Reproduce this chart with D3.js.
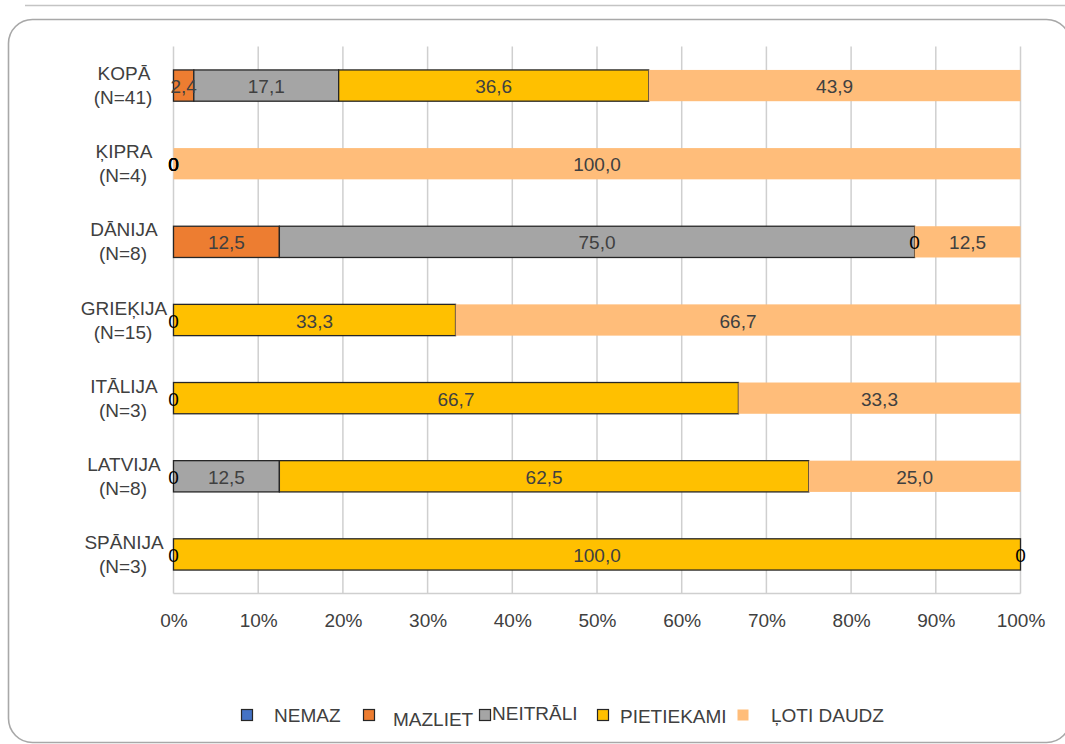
<!DOCTYPE html>
<html>
<head>
<meta charset="utf-8">
<script src="https://cdn.jsdelivr.net/npm/d3@7"></script>
<style>
  html, body { margin: 0; padding: 0; background: #ffffff; }
  svg { display: block; }
</style>
</head>
<body>
<svg id="chart" width="1065" height="744"></svg>
<script>
// ---------- DATA ----------
const categories = ["KOPĀ", "ĶIPRA", "DĀNIJA", "GRIEĶIJA", "ITĀLIJA", "LATVIJA", "SPĀNIJA"];
const sampleSizes = ["(N=41)", "(N=4)", "(N=8)", "(N=15)", "(N=3)", "(N=8)", "(N=3)"];
const seriesNames = ["NEMAZ", "MAZLIET", "NEITRĀLI", "PIETIEKAMI", "ĻOTI DAUDZ"];
// null = segment absent / no label shown
const nemaz      = [null, 0,    null, 0,    0,    0,    0];
const mazliet    = [2.4,  0,    12.5, null, null, null, null];
const neitrali   = [17.1, 0,    75.0, null, null, 12.5, null];
const pietiekami = [36.6, 0,    0,    33.3, 66.7, 62.5, 100.0];
const lotiDaudz  = [43.9, 100.0, 12.5, 66.7, 33.3, 25.0, 0];
const tickValues = [0, 10, 20, 30, 40, 50, 60, 70, 80, 90, 100];

// ---------- STYLE / LAYOUT ----------
const colors = ["#4472C4", "#ED7D31", "#A5A5A5", "#FFC000", "#FFBD7A"];
const stroked = [true, true, true, true, false];
const legendItemX = [241, 363, 479, 597, 737];   // square left edges
const legendTextX = [274, 393, 492, 620, 771];
const legendTextDy = [0, 4, -2, 1, 0];
const sansFont = "'Liberation Sans', Arial, sans-serif";

const svg = d3.select("#chart");

// frame
svg.append("line").attr("x1", 25).attr("x2", 1065).attr("y1", 5.5).attr("y2", 5.5)
  .attr("stroke", "#c4c4c4").attr("stroke-width", 1.5);
svg.append("rect").attr("x", 8.5).attr("y", 19.5).attr("width", 1062).attr("height", 723)
  .attr("rx", 24).attr("ry", 24)
  .attr("fill", "#ffffff").attr("stroke", "#a8a8a8").attr("stroke-width", 1.6);

const plot = { left: 173.5, right: 1020.5, top: 46.5, bottom: 593.5 };

const x = d3.scaleLinear().domain([0, 100]).range([plot.left, plot.right]);
const y = d3.scaleBand().domain(categories).range([plot.top, plot.bottom]).paddingInner(0.6).paddingOuter(0.3);

// grid lines
const g = svg.append("g");
g.selectAll("line.grid").data(tickValues).join("line")
  .attr("class", "grid")
  .attr("x1", d => x(d)).attr("x2", d => x(d))
  .attr("y1", plot.top).attr("y2", plot.bottom)
  .attr("stroke", "#cfcfcf").attr("stroke-width", 1.5);
g.append("line").attr("x1", plot.left).attr("x2", plot.right)
  .attr("y1", plot.bottom).attr("y2", plot.bottom)
  .attr("stroke", "#cfcfcf").attr("stroke-width", 1.5);

// x axis tick labels via d3 axis
const xAxis = d3.axisBottom(x).tickValues(tickValues).tickFormat(d => d + "%").tickSize(0).tickPadding(20);
const axG = svg.append("g").attr("transform", `translate(0,${plot.bottom})`).call(xAxis);
axG.select(".domain").remove();
axG.selectAll("text").attr("font-family", sansFont).attr("font-size", 19).attr("fill", "#404040");

// stack data
const seriesArrays = [nemaz, mazliet, neitrali, pietiekami, lotiDaudz];
const rows = categories.map((c, i) => {
  const o = { cat: c };
  seriesNames.forEach((s, k) => { o[s] = seriesArrays[k][i]; });
  return o;
});
const stack = d3.stack().keys(seriesNames).value((d, key) => d[key] == null ? 0 : d[key]);
const stacked = stack(rows);

const locale = d3.formatLocale({ decimal: ",", thousands: " ", grouping: [3], currency: ["", ""] });
const fmt = locale.format(".1f");

// bars
stacked.forEach((layer, k) => {
  const lg = svg.append("g");
  lg.selectAll("rect").data(layer.filter(d => d[1] - d[0] > 0)).join("rect")
    .attr("x", d => x(d[0]))
    .attr("y", d => y(d.data.cat))
    .attr("width", d => x(d[1]) - x(d[0]))
    .attr("height", y.bandwidth())
    .attr("fill", colors[k])
    .attr("stroke", stroked[k] ? "#262626" : "none")
    .attr("stroke-width", 1.3);
});

// labels
stacked.forEach((layer, k) => {
  const lg = svg.append("g");
  lg.selectAll("text").data(layer.filter(d => d.data[seriesNames[k]] != null)).join("text")
    .attr("x", d => x((d[0] + d[1]) / 2))
    .attr("y", d => y(d.data.cat) + y.bandwidth() / 2 + 1)
    .attr("text-anchor", "middle")
    .attr("dominant-baseline", "central")
    .attr("font-family", sansFont)
    .attr("font-size", 19)
    .attr("fill", d => d.data[seriesNames[k]] === 0 ? "#000000" : "#404040")
    .text(d => { const v = d.data[seriesNames[k]]; return v === 0 ? "0" : fmt(v); });
});

// category labels
const cg = svg.append("g");
categories.forEach((c, i) => {
  const cy = y(c) + y.bandwidth() / 2;
  cg.append("text").attr("x", 124).attr("y", cy - 12)
    .attr("text-anchor", "middle").attr("dominant-baseline", "central")
    .attr("font-family", sansFont).attr("font-size", 19).attr("fill", "#404040")
    .text(c);
  cg.append("text").attr("x", 123).attr("y", cy + 12)
    .attr("text-anchor", "middle").attr("dominant-baseline", "central")
    .attr("font-family", sansFont).attr("font-size", 19).attr("fill", "#404040")
    .text(sampleSizes[i]);
});

// legend
const leg = svg.append("g");
seriesNames.forEach((s, k) => {
  leg.append("rect").attr("x", legendItemX[k] + 0.5).attr("y", 709.5).attr("width", 11).attr("height", 11)
    .attr("fill", colors[k]).attr("stroke", stroked[k] ? "#262626" : "none").attr("stroke-width", 1.2);
  leg.append("text").attr("x", legendTextX[k]).attr("y", 715 + legendTextDy[k])
    .attr("dominant-baseline", "central")
    .attr("font-family", sansFont).attr("font-size", 19).attr("fill", "#404040")
    .text(s);
});
</script>
</body>
</html>
